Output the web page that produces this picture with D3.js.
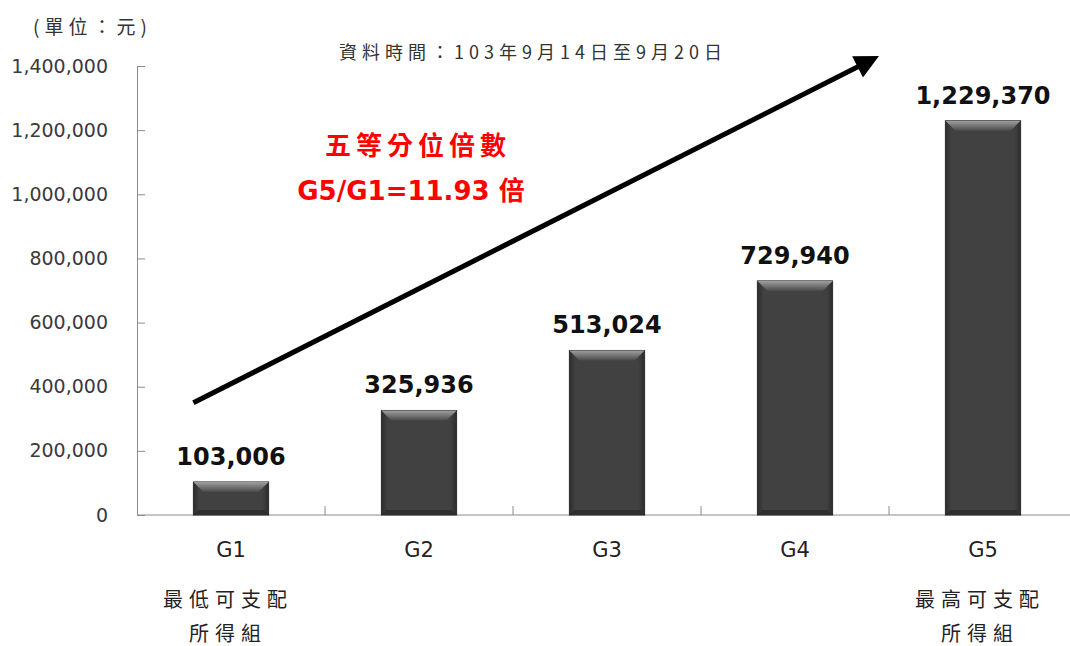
<!DOCTYPE html>
<html>
<head>
<meta charset="utf-8">
<script src="https://cdn.jsdelivr.net/npm/d3@7"></script>
<style>
  html, body { margin: 0; padding: 0; background: #fff; }
</style>
</head>
<body>
<script>
// 資料
const groups = ["G1", "G2", "G3", "G4", "G5"];
const incomes = [103006, 325936, 513024, 729940, 1229370];
const subLabels = [["最低可支配", "所得組"], [], [], [], ["最高可支配", "所得組"]];
const yTicks = [0, 200000, 400000, 600000, 800000, 1000000, 1200000, 1400000];
// 箭頭的起訖: [距X軸起點的類別寬度倍數, 數值]
const arrowFromTo = [[0.3, 350000], [3.96, 1435000]];

const width = 1070, height = 646;
const margin = { top: 66, right: -7, bottom: 131, left: 137 };

const svg = d3.select("body").append("svg")
  .attr("width", width)
  .attr("height", height);

const x = d3.scaleBand()
  .domain(groups)
  .range([margin.left, width - margin.right])
  .paddingInner(0.6)
  .paddingOuter(0.3);

const y = d3.scaleLinear()
  .domain([0, 1400000])
  .range([height - margin.bottom, margin.top]);

const step = x.step();
const x0 = margin.left;

// 漸層 (立體長條)
const defs = svg.append("defs");
const gTop = defs.append("linearGradient").attr("id", "bevelTop")
  .attr("x1", 0).attr("y1", 0).attr("x2", 0).attr("y2", 1);
gTop.append("stop").attr("offset", "0%").attr("stop-color", "#a0a0a0");
gTop.append("stop").attr("offset", "100%").attr("stop-color", "#4a4a4a");
const gBody = defs.append("linearGradient").attr("id", "barBody")
  .attr("x1", 0).attr("y1", 0).attr("x2", 1).attr("y2", 0);
gBody.append("stop").attr("offset", "0%").attr("stop-color", "#2c2c2c");
gBody.append("stop").attr("offset", "8%").attr("stop-color", "#414141");
gBody.append("stop").attr("offset", "92%").attr("stop-color", "#414141");
gBody.append("stop").attr("offset", "100%").attr("stop-color", "#2c2c2c");

// Y軸
const yAxis = svg.append("g")
  .attr("transform", `translate(${margin.left},0)`)
  .call(d3.axisLeft(y).tickValues(yTicks).tickSize(-8).tickPadding(29)
    .tickFormat(d3.format(",")));
yAxis.select(".domain").attr("stroke", "#8c8c8c");
yAxis.selectAll(".tick line").attr("stroke", "#8c8c8c");
yAxis.selectAll(".tick text")
  .attr("fill", "#3a3a3a")
  .style("font-family", "'DejaVu Sans', sans-serif")
  .style("font-size", "19px");

// X軸
const xAxisG = svg.append("g")
  .attr("transform", `translate(0,${y(0)})`);
xAxisG.append("line")
  .attr("x1", margin.left).attr("x2", width)
  .attr("stroke", "#8c8c8c");
xAxisG.selectAll("line.tk")
  .data(groups)
  .join("line")
  .attr("class", "tk")
  .attr("x1", (d, i) => x0 + (i + 1) * step)
  .attr("x2", (d, i) => x0 + (i + 1) * step)
  .attr("y1", 0).attr("y2", -9)
  .attr("stroke", "#8c8c8c");

// 長條
const bars = svg.append("g");
groups.forEach((g, i) => {
  const bx = x(g), bw = x.bandwidth(), by = y(incomes[i]), bh = y(0) - y(incomes[i]);
  const bev = Math.min(10, bh / 2);
  bars.append("rect")
    .attr("x", bx).attr("y", by).attr("width", bw).attr("height", bh)
    .attr("fill", "url(#barBody)")
    .attr("stroke", "#2a2a2a").attr("stroke-width", 1);
  bars.append("path")
    .attr("d", `M${bx},${by}L${bx + bw},${by}L${bx + bw - bev},${by + bev}L${bx + bev},${by + bev}Z`)
    .attr("fill", "url(#bevelTop)");
  bars.append("path")
    .attr("d", `M${bx},${by + bh}L${bx + bw},${by + bh}L${bx + bw - bev * 0.5},${by + bh - bev * 0.5}L${bx + bev * 0.5},${by + bh - bev * 0.5}Z`)
    .attr("fill", "#2e2e2e");
});

// 數值標籤
svg.append("g").selectAll("text")
  .data(incomes)
  .join("text")
  .attr("x", (d, i) => x(groups[i]) + x.bandwidth() / 2)
  .attr("y", d => y(d) - 17)
  .attr("text-anchor", "middle")
  .attr("fill", "#111")
  .style("font-family", "'DejaVu Sans', sans-serif")
  .style("font-weight", "bold")
  .style("font-size", "24px")
  .text(d3.format(","));

// 類別標籤
const cat = svg.append("g");
groups.forEach((g, i) => {
  const cx = x(g) + x.bandwidth() / 2;
  cat.append("text")
    .attr("x", cx).attr("y", 557)
    .attr("text-anchor", "middle")
    .attr("fill", "#222")
    .style("font-family", "'DejaVu Sans', sans-serif")
    .style("font-size", "21px")
    .text(g);
  subLabels[i].forEach((s, j) => {
    cat.append("text")
      .attr("x", cx - 3).attr("y", 607 + j * 34)
      .attr("text-anchor", "middle")
      .attr("fill", "#222")
      .style("font-family", "'Noto Sans CJK TC', sans-serif")
      .style("font-size", "20px")
      .style("letter-spacing", "6px")
      .text(s);
  });
});

// 箭頭
defs.append("marker")
  .attr("id", "arrowHead")
  .attr("viewBox", "0 0 10 10")
  .attr("refX", 2).attr("refY", 5)
  .attr("markerWidth", 5.5).attr("markerHeight", 4.8)
  .attr("orient", "auto")
  .append("path")
  .attr("d", "M0,0L10,5L0,10Z")
  .attr("fill", "#000");
const ax1 = x0 + arrowFromTo[0][0] * step, ay1 = y(arrowFromTo[0][1]);
const tx = x0 + arrowFromTo[1][0] * step, ty = y(arrowFromTo[1][1]);
const len = Math.hypot(tx - ax1, ty - ay1);
const back = 22; // 箭頭長度
svg.append("line")
  .attr("x1", ax1).attr("y1", ay1)
  .attr("x2", tx - (tx - ax1) / len * back)
  .attr("y2", ty - (ty - ay1) / len * back)
  .attr("stroke", "#000")
  .attr("stroke-width", 5)
  .attr("marker-end", "url(#arrowHead)");

// 說明文字
svg.append("text")
  .attr("x", 33).attr("y", 34)
  .attr("fill", "#333")
  .style("font-family", "'Noto Sans CJK TC', sans-serif")
  .style("font-size", "19px")
  .style("letter-spacing", "5px")
  .text("(單位：元)");

svg.append("text")
  .attr("x", 533).attr("y", 59)
  .attr("text-anchor", "middle")
  .attr("fill", "#333")
  .style("font-family", "'Noto Sans CJK TC', sans-serif")
  .style("font-size", "18px")
  .style("letter-spacing", "5px")
  .text("資料時間：103年9月14日至9月20日");

svg.append("text")
  .attr("x", 418).attr("y", 155)
  .attr("text-anchor", "middle")
  .attr("fill", "#ff0000")
  .style("font-family", "'Noto Sans CJK TC', sans-serif")
  .style("font-weight", "bold")
  .style("font-size", "26px")
  .style("letter-spacing", "5px")
  .text("五等分位倍數");

svg.append("text")
  .attr("x", 411).attr("y", 200)
  .attr("text-anchor", "middle")
  .attr("fill", "#ff0000")
  .style("font-family", "'DejaVu Sans', 'Noto Sans CJK TC', sans-serif")
  .style("font-weight", "bold")
  .style("font-size", "26px")
  .text("G5/G1=11.93 倍");
</script>
</body>
</html>
